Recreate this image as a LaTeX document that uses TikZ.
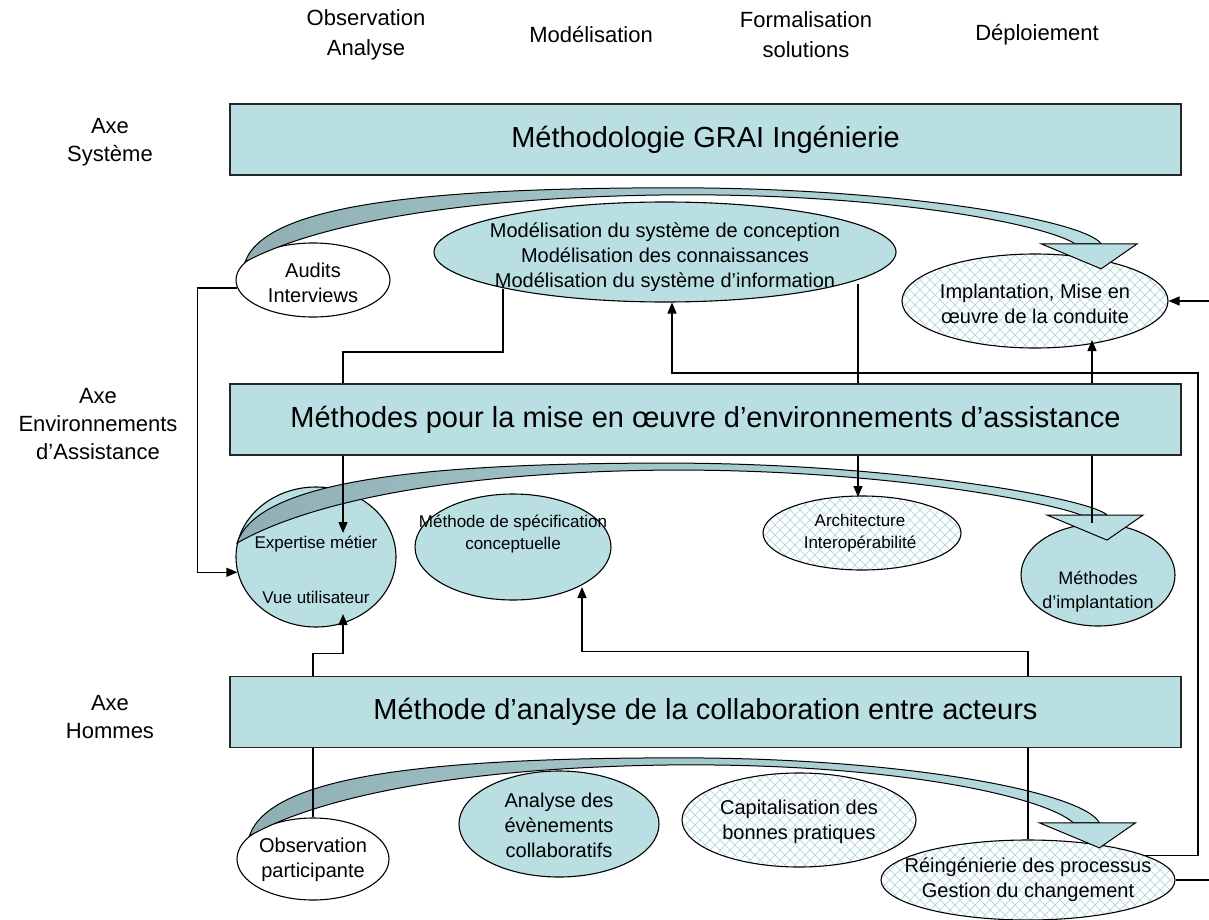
\documentclass[tikz,border=0pt]{standalone}
\usepackage{fontspec}
\setmainfont{Liberation Sans}
\usetikzlibrary{arrows.meta,patterns,shapes.geometric}
\definecolor{teal1}{HTML}{B9DFE3}
\definecolor{hatchc}{HTML}{AFD8DD}
\definecolor{ribdark}{HTML}{8FAFB4}
\pgfdeclarepatternformonly{lattice}{\pgfqpoint{-1pt}{-1pt}}{\pgfqpoint{11pt}{11pt}}{\pgfqpoint{10pt}{10pt}}{%
 \pgfsetlinewidth{0.7pt}%
 \pgfpathmoveto{\pgfqpoint{0pt}{0pt}}\pgfpathlineto{\pgfqpoint{10pt}{10pt}}%
 \pgfpathmoveto{\pgfqpoint{0pt}{10pt}}\pgfpathlineto{\pgfqpoint{10pt}{0pt}}%
 \pgfusepath{stroke}}
\tikzset{
 bigbox/.style={draw=black!85, line width=1.4pt, fill=teal1, minimum width=951pt, minimum height=71pt, inner sep=0pt, font=\fontsize{29}{34}\selectfont},
 hdr/.style={align=center, inner sep=0pt, font=\fontsize{22}{30}\selectfont},
 lab/.style={align=center, inner sep=0pt, font=\fontsize{22}{28}\selectfont},
 ell/.style={ellipse, draw=black, line width=1.1pt, inner sep=0pt},
 tealell/.style={ell, fill=teal1},
 whiteell/.style={ell, fill=white},
 hatchell/.style={ell, preaction={fill=white}, pattern=lattice, pattern color=hatchc},
 etext/.style={align=center, inner sep=0pt, font=\fontsize{20}{25}\selectfont},
 stext/.style={align=center, inner sep=0pt, font=\fontsize{17}{22}\selectfont},
 mtext/.style={align=center, inner sep=0pt, font=\fontsize{18}{24}\selectfont},
 conn/.style={draw=black, line width=1.3pt},
 arr/.style={conn, -{Triangle[length=11pt,width=9pt]}}
}
% #1 tail anchor, #2 peak offset, #3 head top offset, #4 head left x offset
\newcommand\ribbon[4]{%
\begin{scope}[shift={(#1)}]
 \path[draw=black, line width=1pt, left color=ribdark, right color=teal1]
  (0,0) .. controls (20,{0.75*#2}) and (170,#2) .. (430,#2)
  .. controls (660,#2) and ({#4+45},{0.55*#2}) .. ({#4+60},#3)
  -- ({#4+34},#3)
  .. controls ({#4+5},{0.55*#2+4}) and (650,{#2+6}) .. (430,{#2+7})
  .. controls (210,{#2+9}) and (70,{0.5*#2}) .. (0,0) -- cycle;
 \path[draw=black, line width=1pt, fill=teal1] (#4,#3) -- ({#4+96},#3) -- ({#4+60},{#3+25}) -- cycle;
\end{scope}}
\begin{document}
\begin{tikzpicture}[x=1pt,y=-1pt]
\useasboundingbox[fill=white] (0,0) rectangle (1209,920);
% headers
\node[hdr] (h1) at (366,35) {Observation\\Analyse};
\node[hdr] (h2) at (591,35) {Modélisation};
\node[hdr] (h3) at (806,35) {Formalisation\\solutions};
\node[hdr] (h4) at (1037,35) {Déploiement};
% axis labels
\node[lab] (l1) at (110,142) {Axe\\Système};
\node[lab] (l2) at (98,424) {Axe\\Environnements\\d’Assistance};
\node[lab] (l3) at (110,717) {Axe\\Hommes};
% boxes
\node[bigbox] (box1) at (705.5,139.5) {Méthodologie GRAI Ingénierie};
\node[bigbox] (box2) at (705.5,419.5) {Méthodes pour la mise en œuvre d’environnements d’assistance};
\node[bigbox] (box3) at (705.5,712) {Méthode d’analyse de la collaboration entre acteurs};
% row 1 ellipses
\node[whiteell, minimum width=154pt, minimum height=74pt] (audits) at (313,280) {};
\node[tealell, minimum width=462pt, minimum height=100pt] (model) at (665,252) {};
\node[hatchell, minimum width=266pt, minimum height=94pt] (impl) at (1035,301) {};
% row 2 ellipses
\node[tealell, minimum width=160pt, minimum height=140pt] (expert) at (316,557) {};
\node[tealell, minimum width=196pt, minimum height=106pt] (spec) at (513,547) {};
\node[hatchell, minimum width=198pt, minimum height=74pt] (arch) at (862,533) {};
\node[tealell, minimum width=154pt, minimum height=102pt] (meth) at (1098,575) {};
% row 3 ellipses
\node[whiteell, minimum width=152pt, minimum height=82pt] (obs) at (313,859) {};
\node[tealell, minimum width=200pt, minimum height=106pt] (anal) at (559,824) {};
\node[hatchell, minimum width=234pt, minimum height=94pt] (capi) at (799,820) {};
\node[hatchell, minimum width=294pt, minimum height=80pt] (reing) at (1028,880) {};
% ribbons
\ribbon{audits.165}{-74}{-18}{796}
\ribbon{expert.170}{-80}{-28}{810}
\ribbon{obs.160}{-78}{-13}{790}
% texts
\node[etext] (audits-t) at (313,283) {Audits\\Interviews};
\node[etext] (model-t) at (665,257) {Modélisation du système de conception\\Modélisation des connaissances\\Modélisation du système d’information};
\node[etext] (impl-t) at (1035,304) {Implantation, Mise en\\œuvre de la conduite};
\node[stext] (expert-t) at (316,570) {Expertise métier\\[33pt]Vue utilisateur};
\node[stext] (spec-t) at (513,534) {Méthode de spécification\\conceptuelle};
\node[stext] (arch-t) at (860,533) {Architecture\\Interopérabilité};
\node[mtext] (meth-t) at (1098,592) {Méthodes\\d’implantation};
\node[etext] (obs-t) at (313,860) {Observation\\participante};
\node[etext] (anal-t) at (559,825) {Analyse des\\évènements\\collaboratifs};
\node[etext] (capi-t) at (799,822) {Capitalisation des\\bonnes pratiques};
\node[etext] (reing-t) at (1028,880) {Réingénierie des processus\\Gestion du changement};
% helper coordinates
\coordinate (xE) at (343,0);
\coordinate (xL) at (503,0);
\coordinate (xK) at (672,0);
\coordinate (xA) at (858,0);
\coordinate (xM) at (1092,0);
\coordinate (xR) at (1198,0);
\coordinate (yH) at (0,373);
\coordinate (tipE) at (343,533);
\coordinate (tipV) at (343,614);
\coordinate (tipS) at (582,587);
\coordinate (tipI) at (1092,340);
\coordinate (tipA) at (858,497);
% connectors
\draw[arr] (audits.186) -- ++(-40,0) |- (expert.191);
\draw[conn] (xL |- model.193) -- (xL |- 0,352) -| (box2.north -| xE);
\draw[arr] (box2.south -| xE) -- (tipE);
\draw[conn] (xA |- model.350) -- (box2.north -| xA);
\draw[arr] (box2.south -| xA) -- (tipA);
\draw[arr] (box2.north -| xM) -- (tipI);
\draw[conn] (box2.south -| xM) -- (xM |- meth.north);
\draw[arr] (reing.12) -| (xR |- yH) -| (xK |- model.south);
\draw[arr] (reing.east) -- ++(45,0) |- (impl.east);
\draw[arr] (box3.north -| obs.north) -- ++(0,-22) -| (tipV);
\draw[arr] (box3.north -| reing.north) -- ++(0,-24) -| (tipS);
\draw[conn] (box3.south -| obs.north) -- (obs.north);
\draw[conn] (box3.south -| reing.north) -- (reing.north);
\end{tikzpicture}
\end{document}
